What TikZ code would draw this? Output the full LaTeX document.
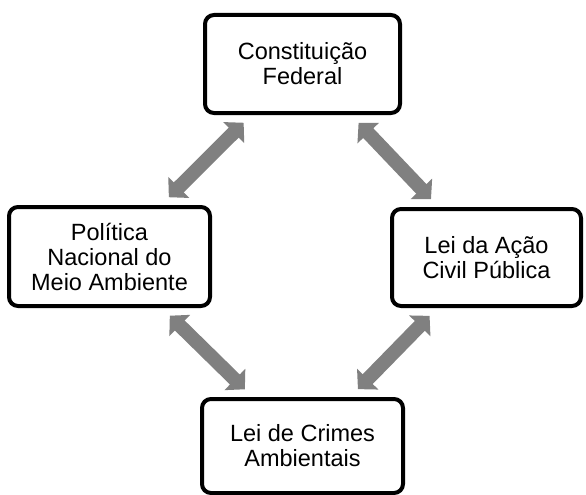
\documentclass[tikz,border=0pt]{standalone}
\usepackage{fontspec}
\setmainfont{Liberation Sans}
\usetikzlibrary{arrows.meta}
\definecolor{arrowgray}{RGB}{128,128,128}
\begin{document}
\begin{tikzpicture}[x=1pt, y=-1pt,
  box/.style={draw, line width=4pt, rounded corners=9pt, align=center, inner sep=0pt,
    font=\fontsize{23.5}{25}\selectfont},
  link/.style={draw=arrowgray, line width=14pt,
    {Triangle[width=29pt,length=14pt]}-{Triangle[width=29pt,length=14pt]},
    shorten <=11pt, shorten >=11pt}]
    \useasboundingbox (0,0) rectangle (586,495);
    \node[box, minimum width=195pt, minimum height=98pt] (const) at (302.5,64) {Constituição\\Federal};
    \node[box, minimum width=201pt, minimum height=99pt] (pnma) at (109.5,256.5) {Política\\Nacional do\\Meio Ambiente};
    \node[box, minimum width=189pt, minimum height=97pt] (lacp) at (486.5,257.5) {Lei da Ação\\Civil Pública};
    \node[box, minimum width=201pt, minimum height=94pt] (lcrimes) at (302.5,446) {Lei de Crimes\\Ambientais};

    \draw[link] (const) -- (pnma);
    \draw[link] (const) -- (lacp);
    \draw[link] (pnma) -- (lcrimes);
    \draw[link] (lacp) -- (lcrimes);
  \end{tikzpicture}
\end{document}
